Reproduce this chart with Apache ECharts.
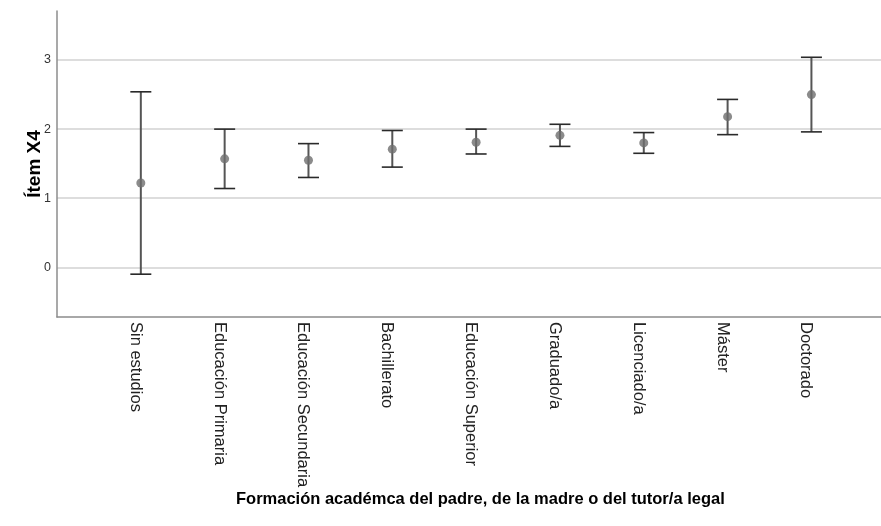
<!DOCTYPE html>
<html>
<head>
<meta charset="utf-8">
<script src="https://cdn.jsdelivr.net/npm/echarts@6/dist/echarts.min.js"></script>
<style>html,body{margin:0;padding:0;background:#fff}#c{width:881px;height:526px}</style>
</head>
<body>
<div id="c"></div>
<script>
const categories = ['Sin estudios','Educación Primaria','Educación Secundaria','Bachillerato','Educación Superior','Graduado/a','Licenciado/a','Máster','Doctorado'];
const means = [1.22, 1.57, 1.55, 1.71, 1.81, 1.91, 1.80, 2.18, 2.50];
const lower = [-0.10, 1.14, 1.30, 1.45, 1.64, 1.75, 1.65, 1.92, 1.96];
const upper = [2.54, 2.00, 1.79, 1.98, 2.00, 2.07, 1.95, 2.43, 3.04];
const yTicks = [0, 1, 2, 3];
const yAxisTitle = 'Ítem X4';
const xAxisTitle = 'Formación académca del padre, de la madre o del tutor/a legal';

const idx = categories.map((c, i) => i);
const chart = echarts.init(document.getElementById('c'), null, {renderer: 'canvas'});
const font = 'Liberation Sans, Arial, sans-serif';
chart.setOption({
  animation: false,
  backgroundColor: '#fff',
  title: {
    text: xAxisTitle, left: 231, top: 486,
    textStyle: {fontFamily: font, fontWeight: 'bold', fontSize: 16.5, color: '#000'}
  },
  grid: {left: 57, right: 0, top: 11, bottom: 209, containLabel: false},
  xAxis: {
    type: 'value', min: -1, max: 8.83,
    axisLine: {show: true, onZero: false, lineStyle: {color: '#8c8c8c', width: 1.5}},
    axisTick: {show: false},
    splitLine: {show: false},
    axisLabel: {
      customValues: idx, rotate: -90, margin: 5,
      verticalAlign: 'top', lineHeight: 11,
      formatter: v => categories[v] || '',
      fontFamily: font, fontSize: 16.5, color: '#222'
    }
  },
  yAxis: {
    type: 'value', min: -0.72, max: 3.71,
    name: yAxisTitle, nameLocation: 'middle', nameGap: 13, nameRotate: 90,
    nameMoveOverlap: false,
    nameTextStyle: {fontFamily: font, fontWeight: 'bold', fontSize: 19, color: '#000'},
    axisLine: {show: true, onZero: false, lineStyle: {color: '#8c8c8c', width: 1.5}},
    axisTick: {show: false, customValues: yTicks},
    splitLine: {show: true, lineStyle: {color: '#d2d2d2', width: 1.5}},
    axisLabel: {customValues: yTicks, margin: 6, fontFamily: font, fontSize: 12.5, color: '#333'}
  },
  series: [
    {
      type: 'custom',
      data: idx.map(i => [i, lower[i], upper[i]]),
      renderItem: function (params, api) {
        const x = api.value(0);
        const lo = api.coord([x, api.value(1)]);
        const hi = api.coord([x, api.value(2)]);
        const hw = 10.5;
        return {
          type: 'group',
          children: [
            {type: 'line', shape: {x1: lo[0], y1: lo[1], x2: hi[0], y2: hi[1]}, style: {stroke: '#555', lineWidth: 2}},
            {type: 'line', shape: {x1: hi[0] - hw, y1: hi[1], x2: hi[0] + hw, y2: hi[1]}, style: {stroke: '#2a2a2a', lineWidth: 1.6}},
            {type: 'line', shape: {x1: lo[0] - hw, y1: lo[1], x2: lo[0] + hw, y2: lo[1]}, style: {stroke: '#2a2a2a', lineWidth: 1.6}}
          ]
        };
      },
      z: 2
    },
    {
      type: 'scatter',
      data: idx.map(i => [i, means[i]]),
      symbol: 'circle', symbolSize: 9,
      itemStyle: {color: '#6e6e6e'},
      z: 3
    }
  ]
});
</script>
</body>
</html>
